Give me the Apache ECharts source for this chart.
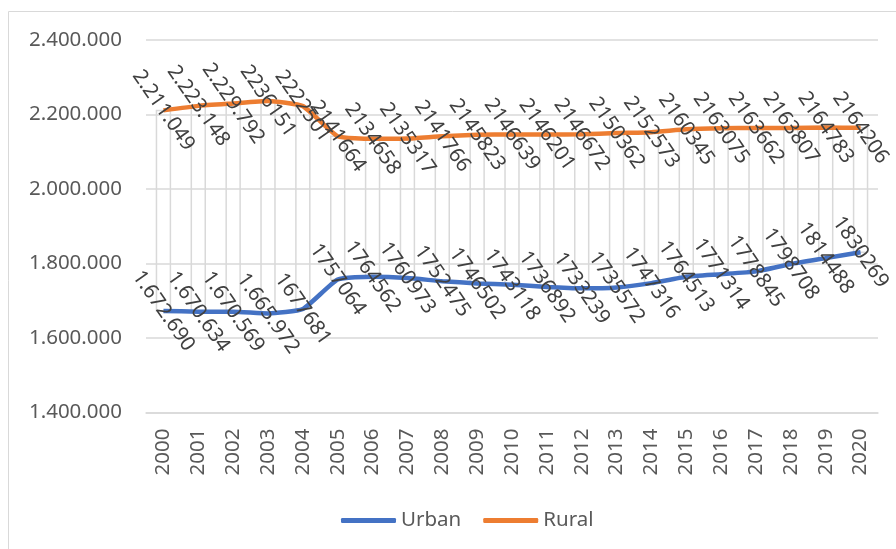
<!DOCTYPE html>
<html>
<head>
<meta charset="utf-8">
<script src="https://cdn.jsdelivr.net/npm/echarts@6/dist/echarts.min.js"></script>
<style>
  html, body { margin: 0; padding: 0; background: #fff; }
  #main { width: 896px; height: 549px; }
</style>
</head>
<body>
<div id="main"></div>
<script>
// data
var years = ['2000','2001','2002','2003','2004','2005','2006','2007','2008','2009','2010',
             '2011','2012','2013','2014','2015','2016','2017','2018','2019','2020'];

var urban = [1672690,1670634,1670569,1665972,1677681,1757064,1764562,1760973,1752475,1746502,
             1743118,1736892,1733239,1735572,1747316,1764513,1771314,1778845,1798708,1814488,1830269];
var rural = [2211049,2223148,2229792,2236151,2222501,2141664,2134658,2135317,2141766,2145823,
             2146639,2146201,2146672,2150362,2152573,2160345,2163075,2163662,2163807,2164783,2164206];

// the label texts as they are written on the chart
var urbanLabels = ['1.672.690','1.670.634','1.670.569','1.665.972','1677681','1757064','1764562','1760973',
                   '1752475','1746502','1743118','1736892','1733239','1735572','1747316','1764513',
                   '1771314','1778845','1798708','1814488','1830269'];
var ruralLabels = ['2.211.049','2.223.148','2.229.792','2236151','2222501','2141664','2134658','2135317',
                   '2141766','2145823','2146639','2146201','2146672','2150362','2152573','2160345',
                   '2163075','2163662','2163807','2164783','2164206'];

var yTicks = [1400000, 2400000, 200000]; // min, max, step

var FONT = 'Noto Sans';

function dotted(v) {
    return String(v).replace(/\B(?=(\d{3})+(?!\d))/g, '.');
}

var chart = echarts.init(document.getElementById('main'));

// up/down bars between the two series
var barData = years.map(function (y, i) { return [i, urban[i], rural[i]]; });

var labelStyle = {
    show: true,
    position: 'inside',
    rotate: -55,
    align: 'center',
    verticalAlign: 'middle',
    color: '#404040',
    fontFamily: FONT,
    fontSize: 20.5
};

var option = {
    animation: false,
    graphic: [{
        type: 'rect',
        shape: { x: 8.5, y: 11.5, width: 1000, height: 1000 },
        style: { fill: 'none', stroke: '#d9d9d9', lineWidth: 1 },
        silent: true
    }],
    grid: { left: 146, right: 18, top: 40, bottom: 136.5 },
    legend: {
        left: 336,
        top: 505,
        icon: 'roundRect',
        itemWidth: 55,
        itemHeight: 5,
        itemGap: 22,
        textStyle: { color: '#595959', fontFamily: FONT, fontSize: 20.5 },
        data: ['Urban', 'Rural']
    },
    xAxis: {
        type: 'category',
        data: years,
        boundaryGap: true,
        axisLine: { lineStyle: { color: '#d9d9d9', width: 1.5 } },
        axisTick: { show: false },
        axisLabel: { rotate: 90, margin: 16, color: '#595959', fontFamily: FONT, fontSize: 20.5 }
    },
    yAxis: {
        type: 'value',
        min: yTicks[0],
        max: yTicks[1],
        interval: yTicks[2],
        axisLine: { show: false },
        axisTick: { show: false },
        splitLine: { lineStyle: { color: '#d9d9d9', width: 1.5 } },
        axisLabel: {
            margin: 24,
            color: '#595959',
            fontFamily: FONT,
            fontSize: 20.5,
            formatter: dotted
        }
    },
    series: [
        {
            name: 'updown',
            type: 'custom',
            z: 1,
            silent: true,
            data: barData,
            renderItem: function (params, api) {
                var top = api.coord([api.value(0), api.value(2)]);
                var bot = api.coord([api.value(0), api.value(1)]);
                var w = api.size([1, 0])[0] * 0.4;
                return {
                    type: 'rect',
                    shape: { x: top[0] - w / 2, y: top[1], width: w, height: bot[1] - top[1] },
                    style: { fill: 'none', stroke: '#d9d9d9', lineWidth: 1.5 }
                };
            }
        },
        {
            name: 'Urban',
            type: 'line',
            z: 3,
            data: urban,
            smooth: 0.15,
            symbol: 'circle',
            symbolSize: 0,
            showSymbol: true,
            lineStyle: { color: '#4472c4', width: 4.5 },
            itemStyle: { color: '#4472c4' },
            labelLayout: { hideOverlap: false },
            label: Object.assign({}, labelStyle, {
                formatter: function (p) { return urbanLabels[p.dataIndex]; }
            })
        },
        {
            name: 'Rural',
            type: 'line',
            z: 3,
            data: rural,
            smooth: 0.15,
            symbol: 'circle',
            symbolSize: 0,
            showSymbol: true,
            lineStyle: { color: '#ed7d31', width: 4.5 },
            itemStyle: { color: '#ed7d31' },
            labelLayout: { hideOverlap: false },
            label: Object.assign({}, labelStyle, {
                formatter: function (p) { return ruralLabels[p.dataIndex]; }
            })
        }
    ]
};

chart.setOption(option);
</script>
</body>
</html>
